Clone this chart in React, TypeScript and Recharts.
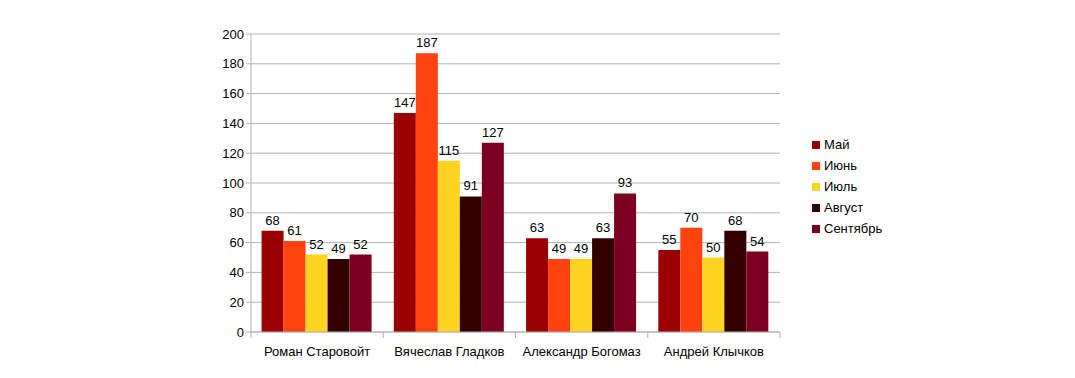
import React from "react";
import { BarChart, Bar, XAxis, YAxis, CartesianGrid, LabelList } from "recharts";

const categories = ["Роман Старовойт", "Вячеслав Гладков", "Александр Богомаз", "Андрей Клычков"];
const seriesNames = ["Май", "Июнь", "Июль", "Август", "Сентябрь"];
const may = [68, 147, 63, 55];
const june = [61, 187, 49, 70];
const july = [52, 115, 49, 50];
const august = [49, 91, 63, 68];
const september = [52, 127, 93, 54];
const yTicks = [0, 20, 40, 60, 80, 100, 120, 140, 160, 180, 200];
const colors = ["#9a0000", "#ff420e", "#ffd320", "#330000", "#7e0021"];

const seriesValues = [may, june, july, august, september];
const keys = ["s0", "s1", "s2", "s3", "s4"];
const data = categories.map((name, i) => {
  const row: any = { name };
  keys.forEach((k, j) => (row[k] = seriesValues[j][i]));
  return row;
});

const FONT = "'Liberation Sans', Arial, sans-serif";

const CategoryTick = (props: any) => {
  const { x, y, payload, index, visibleTicksCount, width } = props;
  const band = width / visibleTicksCount;
  const half = band / 2;
  const axisY = y - 8;
  return (
    <g>
      <line x1={x - half} x2={x - half} y1={axisY} y2={axisY + 6} stroke="#b3b3b3" />
      {index === visibleTicksCount - 1 && (
        <line x1={x + half} x2={x + half} y1={axisY} y2={axisY + 6} stroke="#b3b3b3" />
      )}
      <text x={x} y={axisY + 24} textAnchor="middle" fontSize={13} fill="#000" fontFamily={FONT}>
        {payload.value}
      </text>
    </g>
  );
};

const LegendBox = () => (
  <div style={{ position: "absolute", left: 804, top: 126, fontFamily: FONT, fontSize: 13, color: "#000" }}>
    {seriesNames.map((n, i) => (
      <div key={n} style={{ display: "flex", alignItems: "center", height: 21 }}>
        <div style={{ width: 8, height: 8, background: colors[i], marginRight: 4 }} />
        <span>{n}</span>
      </div>
    ))}
  </div>
);

export default function App() {
  return (
    <div style={{ position: "relative", width: 1060, height: 362 }}>
      <BarChart
        width={1060}
        height={362}
        data={data}
        margin={{ top: 26, right: 288, bottom: 0, left: 0 }}
        barCategoryGap="8%"
        barGap={0}
      >
        <CartesianGrid vertical={false} stroke="#b3b3b3" />
        <XAxis
          dataKey="name"
          stroke="#b3b3b3"
          tickLine={false}
          tick={<CategoryTick />}
          interval={0}
          height={38}
        />
        <YAxis
          width={243}
          domain={[0, 200]}
          ticks={yTicks}
          stroke="#b3b3b3"
          tickSize={5}
          tick={{ fill: "#000", fontSize: 13, fontFamily: FONT }}
          interval={0}
        />
        {keys.map((k, j) => (
          <Bar key={k} dataKey={k} name={seriesNames[j]} fill={colors[j]} isAnimationActive={false}>
            <LabelList dataKey={k} position="top" offset={6} fill="#000" fontSize={13} fontFamily={FONT} />
          </Bar>
        ))}
      </BarChart>
      <LegendBox />
    </div>
  );
}
